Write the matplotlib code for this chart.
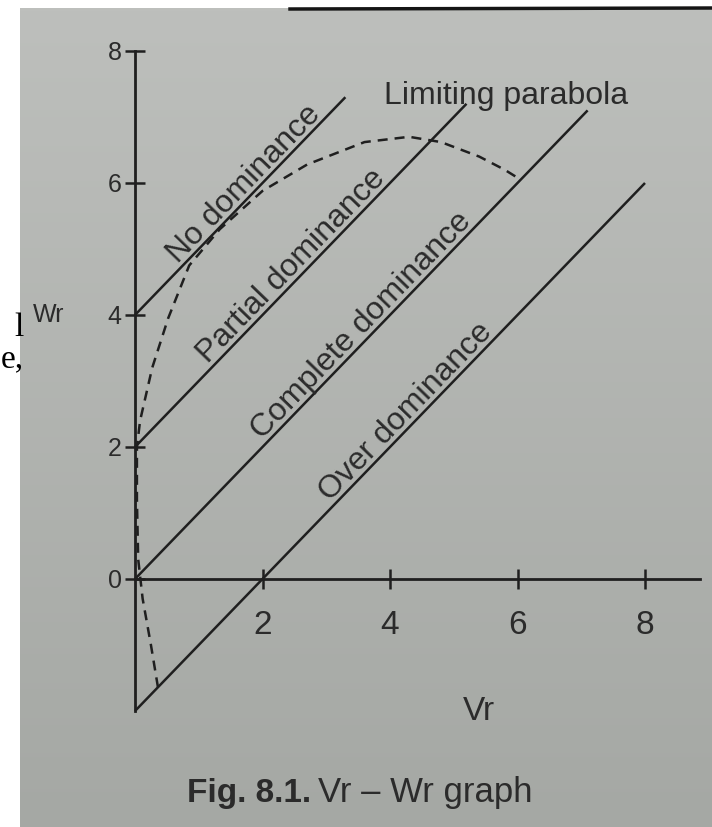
import matplotlib
matplotlib.use('Agg')
import matplotlib.pyplot as plt
import matplotlib.transforms as mtransforms
import numpy as np

plt.rcParams['font.family'] = ['Liberation Sans', 'DejaVu Sans']

# ticks
vr_ticks = [2, 4, 6, 8]
wr_ticks = [0, 2, 4, 6, 8]

# regression lines of slope 1 (start / end points)
line_names = ["No dominance", "Partial dominance", "Complete dominance", "Over dominance"]
line_vr = [[0, 3.3], [0, 5.2], [0, 7.1], [0, 8.0]]
line_wr = [[4, 7.3], [2, 7.2], [0, 7.1], [-2, 6.0]]

# limiting parabola (dashed)
para_vr = [0.36, 0.25, 0.12, 0.05, 0.03, 0.03, 0.08, 0.27, 0.52, 0.85, 1.33,
           2.0, 2.7, 3.6, 4.3, 4.8, 5.4, 5.8, 6.05]
para_wr = [-1.64, -1.0, -0.3, 0.3, 1.2, 2.0, 2.4, 3.2, 3.95, 4.75, 5.3,
           5.88, 6.28, 6.62, 6.7, 6.62, 6.4, 6.2, 6.05]

ink = '#1f1f1f'
txt = '#2b2b2b'
W, H = 712, 827

fig = plt.figure(figsize=(W / 100, H / 100), dpi=100)
fig.set_facecolor('white')

# photographed page background
bg = fig.add_axes([0, 0, 1, 1])
bg.set_xlim(0, 1)
bg.set_ylim(0, 1)
bg.axis('off')
grad = np.linspace(0, 1, 256).reshape(-1, 1)
bg.imshow(grad, extent=[20 / W, 1, 0, 1 - 8 / H], aspect='auto',
          cmap=matplotlib.colors.LinearSegmentedColormap.from_list('paper', ['#a5a8a4', '#bdbfbc']),
          origin='lower')
bg.plot([290 / W, 1], [1 - 9 / H, 1 - 8 / H], color='#151515', lw=2.5)

# main axes, pixel-matched limits
ax = fig.add_axes([0, 0, 1, 1])
ax.set_facecolor('none')
ax.set_xlim(-135 / 63.75, (W - 135) / 63.75)
ax.set_ylim((579 - H) / 66.0, 579 / 66.0)

for s in ['top', 'right']:
    ax.spines[s].set_visible(False)
ax.spines['left'].set_position(('data', 0))
ax.spines['bottom'].set_position(('data', 0))
ax.spines['left'].set_bounds(-2, 8)
ax.spines['bottom'].set_bounds(0, 8.86)
for s in ['left', 'bottom']:
    ax.spines[s].set_color(ink)
    ax.spines[s].set_linewidth(2.0)

ax.set_xticks(vr_ticks)
ax.set_yticks(wr_ticks)
ax.set_xticklabels([str(v) for v in vr_ticks])
ax.set_yticklabels([str(v) for v in wr_ticks])
ax.tick_params(axis='both', direction='inout', length=15, width=1.8, color=ink)
ax.tick_params(axis='x', labelsize=24, pad=15, labelcolor=txt)
ax.tick_params(axis='y', labelsize=18, pad=2, labelcolor=txt)

# lines and their labels
label_at = [1.85, 2.6, 3.7, 4.4]
for name, xs, ys, lx in zip(line_names, line_vr, line_wr, label_at):
    ax.plot(xs, ys, color=ink, lw=1.8, solid_capstyle='butt')
    slope = (ys[1] - ys[0]) / (xs[1] - xs[0])
    ly = ys[0] + slope * (lx - xs[0])
    tr = mtransforms.offset_copy(ax.transData, fig=fig, x=-2.5, y=2.5, units='points')
    ax.text(lx, ly, name, transform=tr, rotation=45, transform_rotates_text=True,
            rotation_mode='anchor', ha='center', va='baseline', fontsize=23, color=txt)

ax.plot(para_vr, para_wr, color=ink, lw=1.8, linestyle=(0, (4, 2.8)))
ax.text(3.9, 7.32, "Limiting parabola", fontsize=23, color=txt, ha='left', va='center')

# axis titles
ax.text(-1.35, 4.0, "Wr", fontsize=18, color=txt, ha='center', va='center')
ax.text(5.4, -2.0, "Vr", fontsize=24, color=txt, ha='center', va='center')

# caption
fig.text(311 / W, 1 - 802 / H, "Fig. 8.1.", fontsize=24, fontweight='bold',
         color=txt, ha='right', va='baseline')
fig.text(318 / W, 1 - 802 / H, "Vr \u2013 Wr graph", fontsize=25,
         color=txt, ha='left', va='baseline')

# text bleeding in from the neighbouring page
fig.text(24 / W, 1 - 367 / H, "l\ne,", family='Liberation Serif', fontsize=24, color='black',
         ha='right', va='baseline', multialignment='right', linespacing=1.0)

fig.savefig('out.png', dpi=100, facecolor=fig.get_facecolor())
